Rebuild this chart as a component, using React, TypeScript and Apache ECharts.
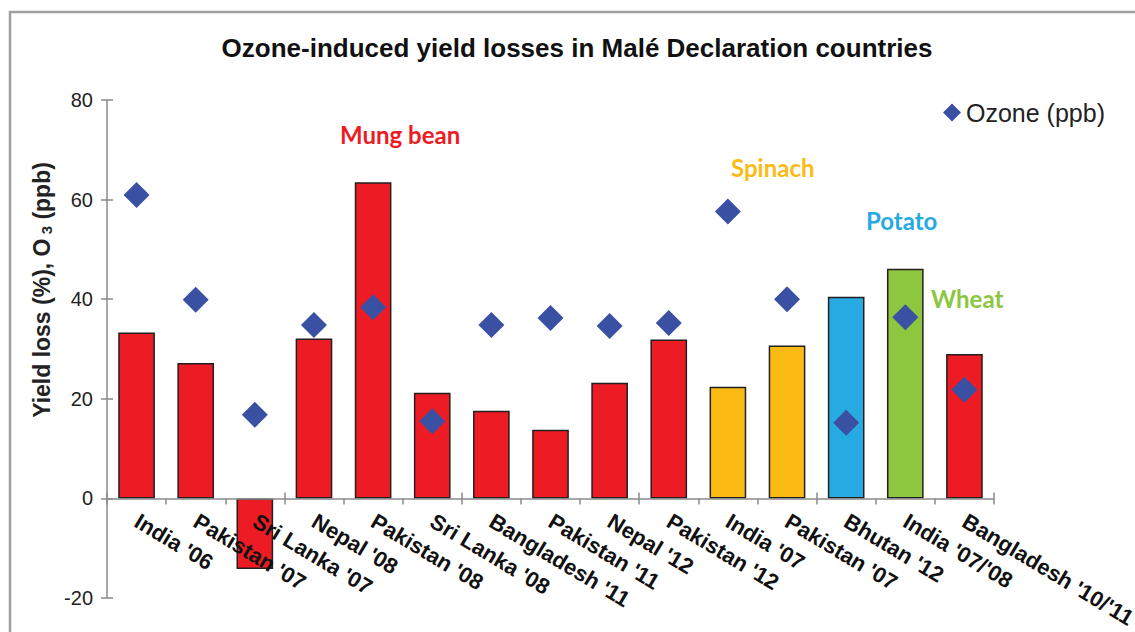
import React, { useEffect, useRef } from "react";
import * as echarts from "echarts";

const categories = [
  "India '06", "Pakistan '07", "Sri Lanka '07", "Nepal '08", "Pakistan '08",
  "Sri Lanka '08", "Bangladesh '11", "Pakistan '11", "Nepal '12", "Pakistan '12",
  "India '07", "Pakistan '07", "Bhutan '12", "India '07/'08", "Bangladesh '10/'11",
];
const yieldLoss = [33.3, 27.2, -14.2, 32.1, 63.5, 21.2, 17.6, 13.8, 23.2, 31.9, 22.4, 30.7, 40.5, 46.1, 29.0];
const ozone = [60.9, 39.9, 16.8, 34.8, 38.4, 15.5, 34.8, 36.2, 34.6, 35.2, 57.6, 40.0, 15.2, 36.4, 21.8];
const crops = [
  "Mung bean", "Mung bean", "Mung bean", "Mung bean", "Mung bean",
  "Mung bean", "Mung bean", "Mung bean", "Mung bean", "Mung bean",
  "Spinach", "Spinach", "Potato", "Wheat", "Mung bean",
];
const yTicks = { min: -20, max: 80, interval: 20 };

const cropColors: Record<string, string> = {
  "Mung bean": "#ed1c24",
  Spinach: "#fcbb14",
  Potato: "#27aae1",
  Wheat: "#8dc63f",
};

const FONT = "'Liberation Sans', Arial, sans-serif";
const CAL = "Lato, 'Open Sans', sans-serif";

export default function App() {
  const ref = useRef<HTMLDivElement>(null);
  useEffect(() => {
    document.body.style.margin = "0";
    if (!ref.current) return;
    const chart = echarts.init(ref.current, undefined, { renderer: "svg" });
    const W = 1135;
    const H = 632;
    const gridLeft = 107;
    const gridRight = 141;
    const gridTop = 100;
    const gridBottom = 34;
    const gridWidth = W - gridLeft - gridRight;
    const gridHeight = H - gridTop - gridBottom;
    const zeroFrac = (yTicks.max - 0) / (yTicks.max - yTicks.min);
    const axisGray = "#8a8a8a";
    chart.setOption({
      animation: false,
      backgroundColor: "#ffffff",
      grid: { left: gridLeft, right: gridRight, top: gridTop, bottom: gridBottom, containLabel: false, outerBoundsMode: "none" },
      legend: {
        data: [{ name: "Ozone (ppb)", icon: "diamond" }],
        left: 938,
        top: 95,
        itemWidth: 18,
        itemHeight: 18,
        itemGap: 4,
        textStyle: { fontFamily: FONT, fontSize: 25, color: "#222" },
      },
      xAxis: [
        {
          type: "category",
          data: categories,
          position: "bottom",
          z: 10,
          offset: -gridHeight * (1 - zeroFrac),
          axisLine: { onZero: false, lineStyle: { color: axisGray, width: 1.5 } },
          axisTick: { show: true, inside: false, length: 6, lineStyle: { color: axisGray, width: 1.5 } },
          axisLabel: {
            rotate: -31,
            interval: 0,
            margin: 21,
            fontFamily: FONT,
            fontSize: 22,
            fontWeight: "bold",
            color: "#111",
          },
        },
        {
          type: "category",
          data: categories,
          position: "top",
          z: 10,
          offset: -gridHeight * zeroFrac,
          axisLine: { show: false, onZero: false },
          axisTick: { show: true, inside: false, length: 6, lineStyle: { color: axisGray, width: 1.5 } },
          axisLabel: { show: false },
        },
      ],
      yAxis: [
        {
          type: "value",
          position: "left",
          min: yTicks.min,
          max: yTicks.max,
          interval: yTicks.interval,
          splitLine: { show: false },
          axisLine: { show: true, onZero: false, lineStyle: { color: axisGray, width: 1.5 } },
          axisTick: { show: true, length: 6, lineStyle: { color: axisGray, width: 1.5 } },
          axisLabel: { margin: 14, fontFamily: FONT, fontSize: 20, color: "#222" },
        },
        {
          type: "value",
          position: "right",
          offset: -gridWidth,
          min: yTicks.min,
          max: yTicks.max,
          interval: yTicks.interval,
          splitLine: { show: false },
          axisLine: { show: false, onZero: false },
          axisTick: { show: true, length: 6, lineStyle: { color: axisGray, width: 1.5 } },
          axisLabel: { show: false },
        },
      ],
      series: [
        {
          name: "Yield loss",
          type: "bar",
          xAxisIndex: 0,
          yAxisIndex: 0,
          barWidth: "62%",
          data: yieldLoss.map((v, i) => ({
            value: v,
            itemStyle: { color: cropColors[crops[i]], borderColor: "#231f20", borderWidth: 1.5 },
          })),
        },
        {
          name: "Ozone (ppb)",
          type: "scatter",
          xAxisIndex: 0,
          yAxisIndex: 0,
          symbol: "diamond",
          symbolSize: 26,
          itemStyle: { color: "#3a50a3", opacity: 1 },
          data: ozone,
          z: 5,
        },
      ],
      graphic: [
        {
          type: "rect",
          shape: { x: 10, y: 12, width: 1200, height: 700 },
          style: { fill: "none", stroke: "#a0a0a0", lineWidth: 2.5 },
          silent: true,
        },
        {
          type: "text",
          x: 577,
          y: 48,
          style: {
            text: "Ozone-induced yield losses in Malé Declaration countries",
            fontFamily: FONT,
            fontSize: 26,
            fontWeight: "bold",
            fill: "#111",
            textAlign: "center",
            textVerticalAlign: "middle",
          },
        },
        {
          type: "text",
          x: 42,
          y: 290,
          rotation: Math.PI / 2,
          style: {
            text: "{a|Yield loss (%), O}{s| 3}{a| (ppb)}",
            textAlign: "center",
            textVerticalAlign: "middle",
            rich: {
              a: { fontFamily: FONT, fontSize: 23, fontWeight: "bold", fill: "#222" },
              s: { fontFamily: FONT, fontSize: 15, fontWeight: "bold", fill: "#222", padding: [9, 0, 0, 0] },
            },
          },
        },
        { type: "text", x: 340, y: 134, style: { text: "Mung bean", fontFamily: CAL, fontSize: 24, fontWeight: "bold", fill: cropColors["Mung bean"], textVerticalAlign: "middle" } },
        { type: "text", x: 731, y: 167, style: { text: "Spinach", fontFamily: CAL, fontSize: 24, fontWeight: "bold", fill: cropColors.Spinach, textVerticalAlign: "middle" } },
        { type: "text", x: 866, y: 220, style: { text: "Potato", fontFamily: CAL, fontSize: 24, fontWeight: "bold", fill: cropColors.Potato, textVerticalAlign: "middle" } },
        { type: "text", x: 931, y: 298, style: { text: "Wheat", fontFamily: CAL, fontSize: 24, fontWeight: "bold", fill: cropColors.Wheat, textVerticalAlign: "middle" } },
      ],
    });
    return () => chart.dispose();
  }, []);
  return <div ref={ref} style={{ width: 1135, height: 632 }} />;
}
